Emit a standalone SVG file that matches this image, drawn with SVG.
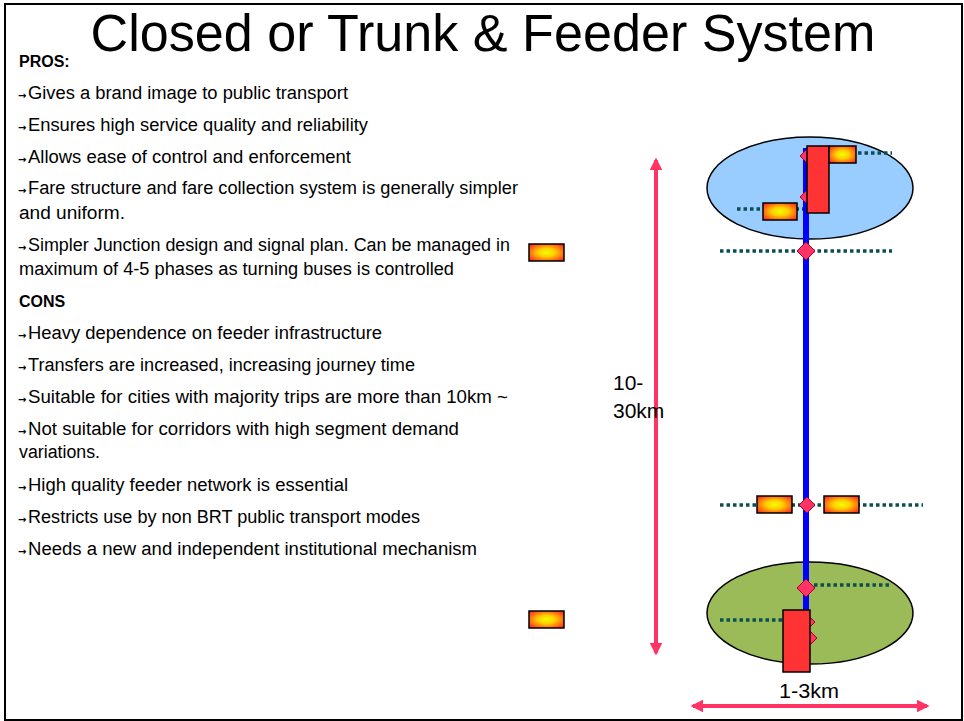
<svg xmlns="http://www.w3.org/2000/svg" width="964" height="721" viewBox="0 0 964 721">
<defs>
<style>
.t{font-family:"Liberation Sans",Arial,sans-serif;font-size:18px;fill:#000}
.h{font-family:"Liberation Sans",Arial,sans-serif;font-size:16px;font-weight:bold;fill:#000}
.ar{font-family:"DejaVu Sans",sans-serif;font-size:10px;font-weight:bold;fill:#000}
.lbl{font-family:"Liberation Sans",Arial,sans-serif;font-size:21px;fill:#000}
.dot{stroke:#0B4F4F;stroke-width:3.5;stroke-dasharray:3.5 3;fill:none}
.bus{fill:url(#busGrad);stroke:#000;stroke-width:1.5}
.dia{fill:#FF3366;stroke:#A0002A;stroke-width:1}
.red{fill:#FF3333;stroke:#000;stroke-width:1.5}
.dim{stroke:#FF3366;stroke-width:4;fill:none}
</style>
<radialGradient id="busGrad" cx="0.5" cy="0.5" r="0.6">
<stop offset="0" stop-color="#EEFF00"/>
<stop offset="0.4" stop-color="#FFD000"/>
<stop offset="1" stop-color="#FF3A1A"/>
</radialGradient>
<marker id="ah" viewBox="0 0 10 10" refX="8" refY="5" markerWidth="3.2" markerHeight="3.2" orient="auto-start-reverse" markerUnits="strokeWidth">
<path d="M0,0 L10,5 L0,10 z" fill="#FF3366"/>
</marker>
</defs>
<rect x="5" y="4" width="957" height="716" fill="#fff" stroke="#000" stroke-width="2"/>
<text x="483" y="51" text-anchor="middle" font-family="Liberation Sans, Arial, sans-serif" font-size="51" textLength="785" lengthAdjust="spacingAndGlyphs">Closed or Trunk &amp; Feeder System</text>

<g id="text-list">
<text class="h" x="19" y="67">PROS:</text>
<text class="ar" x="18" y="99">→</text><text class="t" x="28" y="99" textLength="320" lengthAdjust="spacingAndGlyphs">Gives a brand image to public transport</text>
<text class="ar" x="18" y="131">→</text><text class="t" x="28" y="131" textLength="340" lengthAdjust="spacingAndGlyphs">Ensures high service quality and reliability</text>
<text class="ar" x="18" y="163">→</text><text class="t" x="28" y="163" textLength="323" lengthAdjust="spacingAndGlyphs">Allows ease of control and enforcement</text>
<text class="ar" x="18" y="194">→</text><text class="t" x="28" y="194" textLength="490" lengthAdjust="spacingAndGlyphs">Fare structure and fare collection system is generally simpler</text>
<text class="t" x="19" y="219" textLength="106" lengthAdjust="spacingAndGlyphs">and uniform.</text>
<text class="ar" x="18" y="251">→</text><text class="t" x="28" y="251" textLength="482" lengthAdjust="spacingAndGlyphs">Simpler Junction design and signal plan. Can be managed in</text>
<text class="t" x="19" y="275" textLength="435" lengthAdjust="spacingAndGlyphs">maximum of 4-5 phases as turning buses is controlled</text>
<text class="h" x="19" y="307">CONS</text>
<text class="ar" x="18" y="339">→</text><text class="t" x="28" y="339" textLength="354" lengthAdjust="spacingAndGlyphs">Heavy dependence on feeder infrastructure</text>
<text class="ar" x="18" y="371">→</text><text class="t" x="28" y="371" textLength="387" lengthAdjust="spacingAndGlyphs">Transfers are increased, increasing journey time</text>
<text class="ar" x="18" y="403">→</text><text class="t" x="28" y="403" textLength="480" lengthAdjust="spacingAndGlyphs">Suitable for cities with majority trips are more than 10km ~</text>
<text class="ar" x="18" y="435">→</text><text class="t" x="28" y="435" textLength="431" lengthAdjust="spacingAndGlyphs">Not suitable for corridors with high segment demand</text>
<text class="t" x="19" y="458" textLength="81" lengthAdjust="spacingAndGlyphs">variations.</text>
<text class="ar" x="18" y="491">→</text><text class="t" x="28" y="491" textLength="320" lengthAdjust="spacingAndGlyphs">High quality feeder network is essential</text>
<text class="ar" x="18" y="523">→</text><text class="t" x="28" y="523" textLength="392" lengthAdjust="spacingAndGlyphs">Restricts use by non BRT public transport modes</text>
<text class="ar" x="18" y="555">→</text><text class="t" x="28" y="555" textLength="449" lengthAdjust="spacingAndGlyphs">Needs a new and independent institutional mechanism</text>
</g>

<g id="zone-top"><ellipse cx="810" cy="188" rx="103" ry="51" fill="#99CCFF" stroke="#000" stroke-width="1.5"/></g>
<g id="zone-bottom"><ellipse cx="810" cy="613" rx="103" ry="51" fill="#9BBB59" stroke="#000" stroke-width="1.5"/></g>

<g id="connectors">
<line class="dot" x1="858" y1="153" x2="892" y2="153"/>
<line class="dot" x1="737" y1="209" x2="805" y2="209"/>
<line class="dot" x1="720" y1="251" x2="892" y2="251"/>
<line class="dot" x1="720" y1="505" x2="923" y2="505"/>
<line class="dot" x1="814" y1="585" x2="890" y2="585"/>
<line class="dot" x1="720" y1="620" x2="784" y2="620"/>
<line id="trunk" x1="806" y1="148" x2="806" y2="612" stroke="#0000FF" stroke-width="6"/>
<line class="dim" x1="656" y1="160" x2="656" y2="653" marker-start="url(#ah)" marker-end="url(#ah)"/>
<line class="dim" x1="693" y1="706" x2="927" y2="706" marker-start="url(#ah)" marker-end="url(#ah)"/>
</g>

<g id="stations">
<polygon class="dia" points="807,149 814,156 807,163 800,156"/>
<polygon class="dia" points="807,190 814,197 807,204 800,197"/>
<polygon class="dia" points="806,242 815,251 806,260 797,251"/>
<polygon class="dia" points="807,497 815,505 807,513 799,505"/>
<polygon class="dia" points="806,579 815,588 806,597 797,588"/>
<polygon class="dia" points="810,617 815,622 810,627 805,622"/>
<polygon class="dia" points="810,631 817,638 810,645 803,638"/>
</g>

<g id="terminal-top"><rect class="red" x="807" y="146" width="22" height="67"/></g>
<g id="terminal-bottom"><rect class="red" x="783" y="610" width="27" height="62"/></g>

<g id="buses">
<rect class="bus" x="829" y="146" width="27" height="17"/>
<rect class="bus" x="763" y="203" width="34" height="17"/>
<rect class="bus" x="757" y="496" width="35" height="17"/>
<rect class="bus" x="824" y="496" width="35" height="17"/>
<rect class="bus" x="529" y="244" width="35" height="17"/>
<rect class="bus" x="529" y="611" width="35" height="17"/>
</g>

<g id="labels">
<text class="lbl" x="613" y="390">10-</text>
<text class="lbl" x="613" y="418">30km</text>
<text class="lbl" x="779" y="698" textLength="60" lengthAdjust="spacingAndGlyphs">1-3km</text>
</g>
</svg>
